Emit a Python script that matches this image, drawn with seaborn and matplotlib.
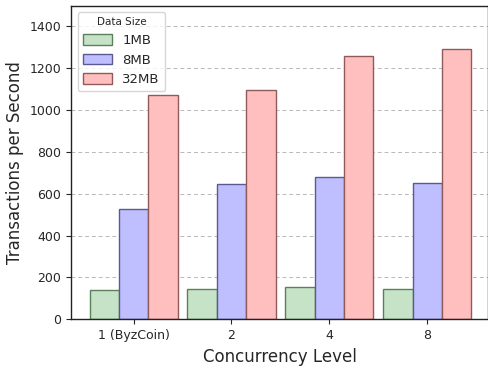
import pandas as pd
import numpy as np
import matplotlib
matplotlib.use("Agg")
import matplotlib.pyplot as plt
import seaborn as sns

levels = ["1 (ByzCoin)", "2", "4", "8"]
sizes = ["1MB", "8MB", "32MB"]
tps_1mb = [140, 145, 152, 147]
tps_8mb = [528, 645, 678, 652]
tps_32mb = [1070, 1097, 1257, 1290]

df = pd.DataFrame({
    "level": levels * 3,
    "size": [s for s in sizes for _ in levels],
    "tps": tps_1mb + tps_8mb + tps_32mb,
})

sns.set_style("ticks")
plt.rcParams["font.family"] = ["DejaVu Sans"]

fig, ax = plt.subplots(figsize=(4.89, 3.67), dpi=100)
ax.grid(axis="y", linestyle=(0, (4, 3)), color="#b8b8b8", linewidth=0.7)
ax.set_axisbelow(True)

palette = {"1MB": (0.78, 0.89, 0.78), "8MB": (0.75, 0.75, 1.0), "32MB": (1.0, 0.75, 0.75)}
edges = {"1MB": "#5a805a", "8MB": "#5a5a90", "32MB": "#905a5a"}

sns.barplot(data=df, x="level", y="tps", hue="size", hue_order=sizes,
            palette=palette, width=0.9, ax=ax, saturation=1, linewidth=1,
            legend=False)

for patch_group, s in zip(ax.containers, sizes):
    for p in patch_group:
        p.set_edgecolor(edges[s])

ax.set_ylim(0, 1500)
ax.set_xlim(-0.64, 3.62)
ax.set_yticks(np.arange(0, 1401, 200))
ax.set_xlabel("Concurrency Level", fontsize=12)
ax.set_ylabel("Transactions per Second", fontsize=12)
ax.tick_params(labelsize=9)
for sp in ax.spines.values():
    sp.set_color("#222222")
    sp.set_linewidth(1)

ax.legend(handles=list(ax.containers), labels=sizes, title="Data Size",
          loc="upper left", fontsize=9.5, title_fontsize=7.5,
          handlelength=2.2, handleheight=0.85, labelspacing=0.5,
          borderaxespad=0.5, framealpha=0.8)

fig.subplots_adjust(left=0.145, right=0.998, top=0.985, bottom=0.13)
fig.savefig("out.png", dpi=100)
